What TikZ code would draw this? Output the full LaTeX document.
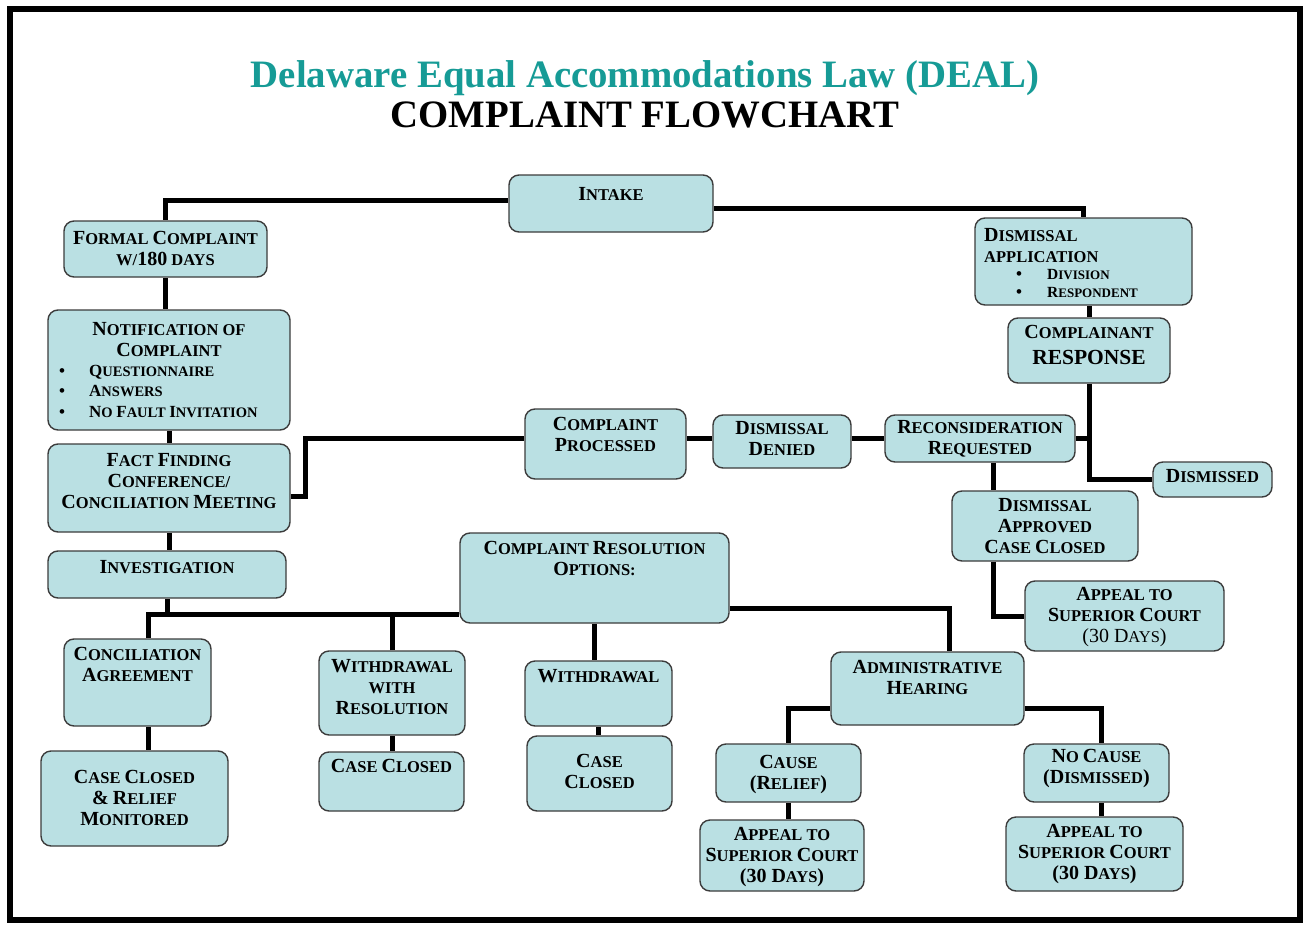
\documentclass[tikz,border=0pt]{standalone}
\usepackage{fontspec}
\setmainfont{Liberation Serif}
\usetikzlibrary{backgrounds}
\definecolor{boxc}{RGB}{186,224,227}
\definecolor{boxd}{RGB}{60,60,60}
\definecolor{titc}{RGB}{22,155,150}
\newcommand\C[1]{{\fontsize{20}{21}\selectfont #1}}
\newcommand\Cb[1]{{\fontsize{17}{20}\selectfont #1}}
\newcommand\Cc[1]{{\fontsize{15.5}{18}\selectfont #1}}
\newcommand\blt[1]{\makebox[#1][l]{\fontsize{17}{17}\selectfont\textbullet}}
\tikzset{
  box/.style={draw=boxd, fill=boxc, rounded corners=10pt, line width=1.4pt, inner sep=0pt},
  txt/.style={font=\bfseries\fontsize{16.5}{21}\selectfont, align=center, inner sep=0pt},
  blt/.style={font=\bfseries\fontsize{14.5}{20.5}\selectfont, align=left, inner sep=0pt},
  bltb/.style={font=\bfseries\fontsize{13}{18}\selectfont, align=left, inner sep=0pt},
  conn/.style={line width=5pt, draw=black},
  ttl/.style={font=\bfseries\fontsize{38.8}{42}\selectfont, inner sep=0pt}
}
\newcommand\bx[7]{%
  \node[box, minimum width={#4-#2}, minimum height={#5-#3}] (#1) at ({(#2+#4)/2},{(#3+#5)/2}) {};
  \node[txt, anchor=north] (#1-t) at ({(#2+#4)/2},{#6-13}) {#7};}
\begin{document}
\begin{tikzpicture}[x=1pt,y=-1pt]
\useasboundingbox (0,0) rectangle (1307,926);
\draw[line width=6pt] (10,9) rectangle (1300,920);

\node[ttl, text=titc, anchor=base] (title1) at (645,87) {Delaware Equal Accommodations Law (DEAL)};
\node[ttl, anchor=base] (title2) at (645,127) {COMPLAINT FLOWCHART};

\bx{intake}{509}{175}{713}{232}{200}{\C{I}NTAKE}
\bx{formal}{64}{221}{267}{277}{244}{\C{F}ORMAL \C{C}OMPLAINT\\W/\C{180} DAYS}
\node[box, minimum width=217, minimum height=87] (dismapp) at (1083.5,261.5) {};
\node[txt, align=left, anchor=north west] (dismapp-t) at (984,228) {\C{D}ISMISSAL\\APPLICATION};
\node[bltb, anchor=north west] (dismapp-b) at (1016,269) {\blt{31pt}\Cc{D}IVISION\\\blt{31pt}\Cc{R}ESPONDENT};
\bx{notif}{48}{310}{290}{430}{335}{\C{N}OTIFICATION OF\\\C{C}OMPLAINT}
\node[blt, anchor=north west] (notif-b) at (59,365) {\blt{30pt}\Cb{Q}UESTIONNAIRE\\\blt{30pt}\Cb{A}NSWERS\\\blt{30pt}\Cb{N}O \Cb{F}AULT \Cb{I}NVITATION};
\bx{fact}{48}{444}{290}{532}{466}{\C{F}ACT \C{F}INDING\\\C{C}ONFERENCE/\\\C{C}ONCILIATION \C{M}EETING}
\bx{invest}{48}{551}{286}{598}{573}{\C{I}NVESTIGATION}
\bx{procd}{525}{409}{686}{479}{430}{\C{C}OMPLAINT\\\C{P}ROCESSED}
\bx{denied}{713}{415}{851}{468}{434}{\C{D}ISMISSAL\\\C{D}ENIED}
\bx{recon}{885}{415}{1075}{462}{433}{\C{R}ECONSIDERATION\\\C{R}EQUESTED}
\bx{compresp}{1008}{318}{1170}{383}{338}{\C{C}OMPLAINANT\\[5pt]{\fontsize{21.5}{24}\selectfont RESPONSE}}
\bx{dismissed}{1153}{462}{1272}{497}{482}{\C{D}ISMISSED}
\bx{dapp}{952}{491}{1138}{561}{511}{\C{D}ISMISSAL\\\C{A}PPROVED\\\C{C}ASE \C{C}LOSED}
\bx{appeal1}{1025}{581}{1224}{651}{600}{\C{A}PPEAL TO\\\C{S}UPERIOR \C{C}OURT\\{\mdseries\C{(30 D}AYS\C{)}}}
\bx{resol}{460}{533}{729}{623}{554}{\C{C}OMPLAINT \C{R}ESOLUTION\\\C{O}PTIONS:}
\bx{concil}{64}{639}{211}{726}{660}{\C{C}ONCILIATION\\\C{A}GREEMENT}
\bx{ccrel}{41}{751}{228}{846}{783}{\C{C}ASE \C{C}LOSED\\\C{\&} \C{R}ELIEF\\\C{M}ONITORED}
\bx{wwr}{319}{651}{465}{735}{672}{\C{W}ITHDRAWAL\\WITH\\\C{R}ESOLUTION}
\bx{cc1}{319}{752}{464}{811}{772}{\C{C}ASE \C{C}LOSED}
\bx{withdraw}{525}{661}{672}{726}{682}{\C{W}ITHDRAWAL}
\bx{cc2}{527}{736}{672}{811}{767}{\C{C}ASE\\\C{C}LOSED}
\bx{admin}{831}{652}{1024}{725}{673}{\C{A}DMINISTRATIVE\\\C{H}EARING}
\bx{cause}{716}{744}{861}{802}{768}{\C{C}AUSE\\\C{(R}ELIEF\C{)}}
\bx{appeal2}{700}{820}{864}{891}{840}{\C{A}PPEAL TO\\\C{S}UPERIOR \C{C}OURT\\\C{(30 D}AYS\C{)}}
\bx{nocause}{1024}{744}{1169}{802}{762}{\C{N}O \C{C}AUSE\\\C{(D}ISMISSED\C{)}}
\bx{appeal3}{1006}{817}{1183}{891}{837}{\C{A}PPEAL TO\\\C{S}UPERIOR \C{C}OURT\\\C{(30 D}AYS\C{)}}

\coordinate (hub) at (166,614);
\begin{pgfonlayer}{background}
\fill[white] (0,0) rectangle (1307,926);
\draw[conn] ([yshift=3pt]intake.west) -| (formal.north);
\draw[conn] ([yshift=-5pt]intake.east) -| (dismapp.north);
\draw[conn] (compresp.north) -- (compresp.north |- dismapp.south);
\draw[conn] (formal.south) -- (formal.south |- notif.north);
\draw[conn] (notif.south) -- (notif.south |- fact.north);
\draw[conn] (fact.south) -- (fact.south |- invest.north);
\draw[conn] ([yshift=-8pt]fact.east) -- ++(15,0) |- (procd.west |- recon.west);
\draw[conn] (procd.east |- recon.west) -- (denied.west |- recon.west);
\draw[conn] (denied.east |- recon.west) -- (recon.west);
\draw[conn] (recon.east) -- (recon.east -| compresp.south);
\draw[conn] (compresp.south) |- (dismissed.west);
\draw[conn] ([xshift=13pt]recon.south) -- ([xshift=13pt]recon.south |- dapp.north);
\draw[conn] ([xshift=-52pt]dapp.south) |- (appeal1.west);
\draw[conn] (invest.south) -- (invest.south |- hub);
\draw[conn] ([xshift=11pt]concil.north) |- (resol.west |- hub);
\draw[conn] (wwr.north) -- (wwr.north |- hub);
\draw[conn] (resol.south) -- (resol.south |- withdraw.north);
\draw[conn] ([yshift=-30pt]resol.east) -| ([xshift=22pt]admin.north);
\draw[conn] ([xshift=11pt]concil.south) -- ([xshift=11pt]concil.south |- ccrel.north);
\draw[conn] (wwr.south) -- (wwr.south |- cc1.north);
\draw[conn] (withdraw.south) -- (withdraw.south |- cc2.north);
\draw[conn] ([yshift=-20pt]admin.west) -| (cause.north);
\draw[conn] ([yshift=-20pt]admin.east) -| ([xshift=5pt]nocause.north);
\draw[conn] (cause.south) -- (cause.south |- appeal2.north);
\draw[conn] ([xshift=5pt]nocause.south) -- ([xshift=5pt]nocause.south |- appeal3.north);
\end{pgfonlayer}
\end{tikzpicture}
\end{document}
